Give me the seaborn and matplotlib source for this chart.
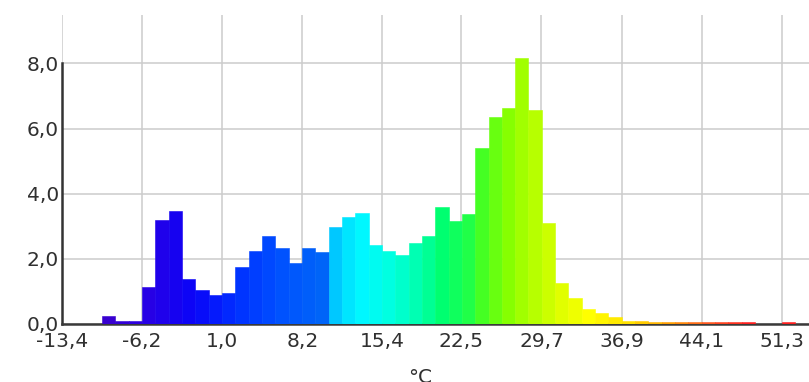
import matplotlib

matplotlib.use("Agg")
import matplotlib.pyplot as plt
import numpy as np
import pandas as pd
import seaborn as sns
from matplotlib.colors import LinearSegmentedColormap
from matplotlib.ticker import FixedLocator, FuncFormatter

# histogram of temperatures (share per bin, %), bins of equal width from -13.4
X_START = -13.4
X_END = 51.3
BIN_WIDTH = (X_END - X_START) / 54
bin_values = [
    0.0, 0.0, 0.0, 0.23, 0.08, 0.08, 1.11, 3.18, 3.46, 1.37,
    1.03, 0.88, 0.95, 1.75, 2.24, 2.69, 2.33, 1.85, 2.33, 2.19,
    2.98, 3.27, 3.39, 2.42, 2.23, 2.11, 2.49, 2.69, 3.57, 3.16,
    3.37, 5.39, 6.34, 6.62, 8.16, 6.57, 3.10, 1.26, 0.78, 0.44,
    0.33, 0.19, 0.09, 0.07, 0.06, 0.06, 0.06, 0.05, 0.05, 0.05,
    0.05, 0.05, 0.0, 0.0, 0.05,
]
x_ticks = [-13.4, -6.2, 1.0, 8.2, 15.4, 22.5, 29.7, 36.9, 44.1, 51.3]
y_ticks = [0, 2, 4, 6, 8]
x_label = "°C"

# colour scale: cold part (indigo -> blue), warm part (cyan -> red)
COLD_SPLIT = 20
cold_cmap = LinearSegmentedColormap.from_list(
    "cold", ["#3800d0", "#2600e6", "#0a04f8", "#0030ff", "#0050ff", "#0064f8"]
)
warm_cmap = LinearSegmentedColormap.from_list(
    "warm",
    [
        (0.00, "#00c8ff"),
        (0.03, "#00e8ff"),
        (0.06, "#00f8ff"),
        (0.12, "#00ffe0"),
        (0.18, "#00ffb0"),
        (0.235, "#00ff70"),
        (0.294, "#20ff48"),
        (0.324, "#48ff20"),
        (0.382, "#88ff00"),
        (0.44, "#b8ff00"),
        (0.50, "#e0ff00"),
        (0.56, "#ffff00"),
        (0.65, "#ffe000"),
        (0.735, "#ffa000"),
        (0.82, "#ff5a20"),
        (0.91, "#ff2020"),
        (1.00, "#ff2020"),
    ],
)


def bin_color(i, n):
    if i < COLD_SPLIT:
        return cold_cmap(max(i - 3, 0) / (COLD_SPLIT - 1 - 3))
    return warm_cmap((i - COLD_SPLIT) / (n - 1 - COLD_SPLIT))


def main() -> None:
    sns.set_style("whitegrid")
    plt.rcParams["font.family"] = ["DejaVu Sans"]

    n = len(bin_values)
    edges = X_START + BIN_WIDTH * np.arange(n + 1)
    df = pd.DataFrame(
        {"temp": (edges[:-1] + edges[1:]) / 2, "share": bin_values}
    )

    fig = plt.figure(figsize=(8.09, 3.82), dpi=100)
    ax = fig.add_axes([0.0766, 0.153, 0.9234, 0.8076])

    sns.histplot(
        data=df,
        x="temp",
        weights="share",
        bins=edges.tolist(),
        stat="count",
        element="bars",
        linewidth=0,
        alpha=1,
        ax=ax,
    )
    for i, patch in enumerate(ax.patches):
        c = bin_color(i, n)
        patch.set_facecolor(c)
        patch.set_edgecolor(c)
        patch.set_linewidth(0.4)
        patch.set_zorder(3)

    ax.set_xlim(X_START, 53.75)
    ax.set_ylim(0, 9.49)

    fmt = FuncFormatter(lambda v, _: f"{v:.1f}".replace(".", ","))
    ax.xaxis.set_major_locator(FixedLocator(x_ticks))
    ax.yaxis.set_major_locator(FixedLocator(y_ticks))
    ax.xaxis.set_major_formatter(fmt)
    ax.yaxis.set_major_formatter(fmt)
    ax.tick_params(axis="both", length=0, labelsize=14.5, labelcolor="#303030")
    ax.tick_params(axis="x", pad=6)
    ax.tick_params(axis="y", pad=2)

    ax.grid(True, color="#cccccc", linewidth=1.1)
    ax.set_axisbelow(True)

    for side in ["top", "right"]:
        ax.spines[side].set_visible(False)
    ax.spines["left"].set_color("#333333")
    ax.spines["left"].set_linewidth(1.8)
    ax.spines["left"].set_bounds(0, 8)
    ax.spines["bottom"].set_color("#3a3a3a")
    ax.spines["bottom"].set_linewidth(1.8)
    ax.spines["bottom"].set_bounds(X_START, 53.7)

    ax.set_ylabel("")
    ax.set_xlabel(x_label, fontsize=14.5, color="#303030")
    ax.xaxis.set_label_coords(0.48, -0.145)
    ax.xaxis.label.set_va("top")

    fig.savefig("out.png", dpi=100)
    plt.close(fig)


if __name__ == "__main__":
    main()
